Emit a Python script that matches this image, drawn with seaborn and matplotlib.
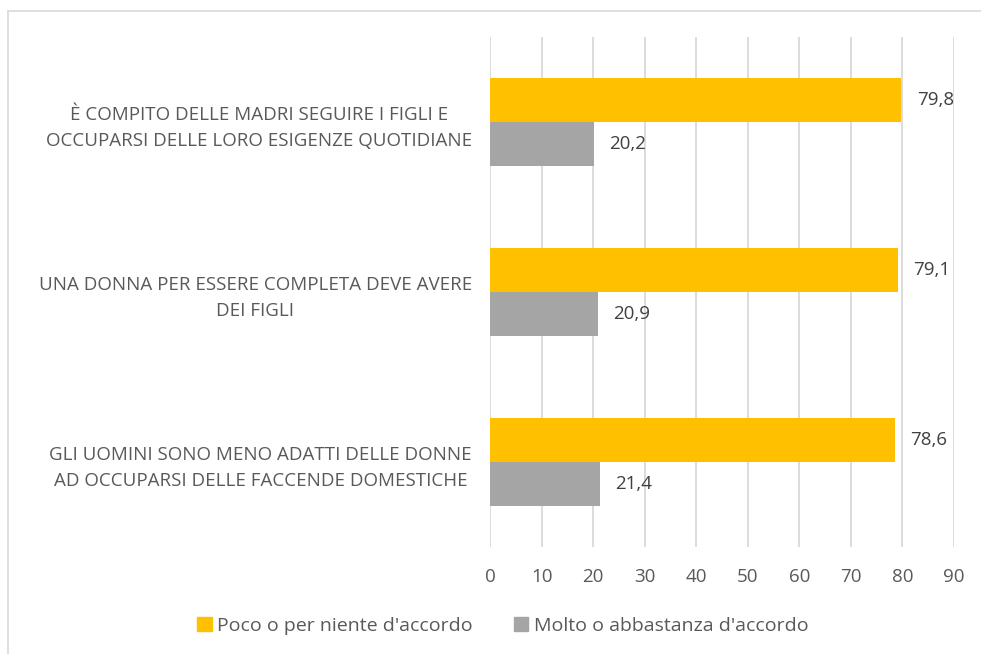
import matplotlib
matplotlib.use("Agg")
import matplotlib.pyplot as plt
import pandas as pd
import seaborn as sns
from matplotlib.patches import Rectangle
from matplotlib.lines import Line2D

categories = ["È COMPITO DELLE MADRI SEGUIRE I FIGLI E\nOCCUPARSI DELLE LORO ESIGENZE QUOTIDIANE",
              "UNA DONNA PER ESSERE COMPLETA DEVE AVERE\nDEI FIGLI",
              "GLI UOMINI SONO MENO ADATTI DELLE DONNE\nAD OCCUPARSI DELLE FACCENDE DOMESTICHE"]
series = ["Poco o per niente d'accordo", "Molto o abbastanza d'accordo"]
poco = [79.8, 79.1, 78.6]
molto = [20.2, 20.9, 21.4]
x_ticks = [0, 10, 20, 30, 40, 50, 60, 70, 80, 90]

df = pd.DataFrame({
    "cat": categories * 2,
    "serie": [series[0]] * 3 + [series[1]] * 3,
    "val": poco + molto,
})

sns.set_style("white")
plt.rcParams["font.family"] = ["Open Sans", "DejaVu Sans"]
txt = "#595959"

fig = plt.figure(figsize=(9.81, 6.54), dpi=100)
ax = fig.add_axes([490/981, 1-547/654, 464/981, 510/654])

sns.barplot(data=df, x="val", y="cat", hue="serie", order=categories, hue_order=series,
            palette=["#FFC000", "#A5A5A5"], width=0.52, ax=ax, legend=False,
            saturation=1, linewidth=0)

for cont in ax.containers:
    ax.bar_label(cont, labels=[f"{v:.1f}".replace(".", ",") for v in cont.datavalues],
                 padding=11, color="#404040", fontsize=13.5)

ax.set_xlim(0, 90)
ax.set_ylim(2.5, -0.5)
ax.set_xticks(x_ticks)
ax.xaxis.grid(True, color="#D9D9D9", linewidth=1.3)
ax.set_axisbelow(True)
ax.set_xlabel("")
ax.set_ylabel("")
for s in ax.spines.values():
    s.set_visible(False)
ax.tick_params(axis="x", length=0, pad=15, labelsize=13.5, labelcolor=txt)
ax.tick_params(axis="y", length=0, pad=13, labelsize=13.5, labelcolor=txt)
for lab in ax.get_yticklabels():
    lab.set_multialignment("center")
    lab.set_linespacing(1.55)

handles = [Rectangle((0, 0), 1, 1, color=c) for c in ["#FFC000", "#A5A5A5"]]
fig.legend(handles, series, loc="center", bbox_to_anchor=(503/981, 1-626/654), ncol=2,
           frameon=False, fontsize=14, labelcolor=txt, handlelength=0.75, handleheight=0.75,
           handletextpad=0.3, columnspacing=2.1)

# bordo del riquadro (solo lati superiore e sinistro visibili)
fig.add_artist(Line2D([7.5/981, 1], [1-10.5/654, 1-10.5/654], transform=fig.transFigure,
                      color="#D9D9D9", linewidth=1.2))
fig.add_artist(Line2D([7.5/981, 7.5/981], [0, 1-10.5/654], transform=fig.transFigure,
                      color="#D9D9D9", linewidth=1.2))

fig.savefig("out.png", dpi=100)
